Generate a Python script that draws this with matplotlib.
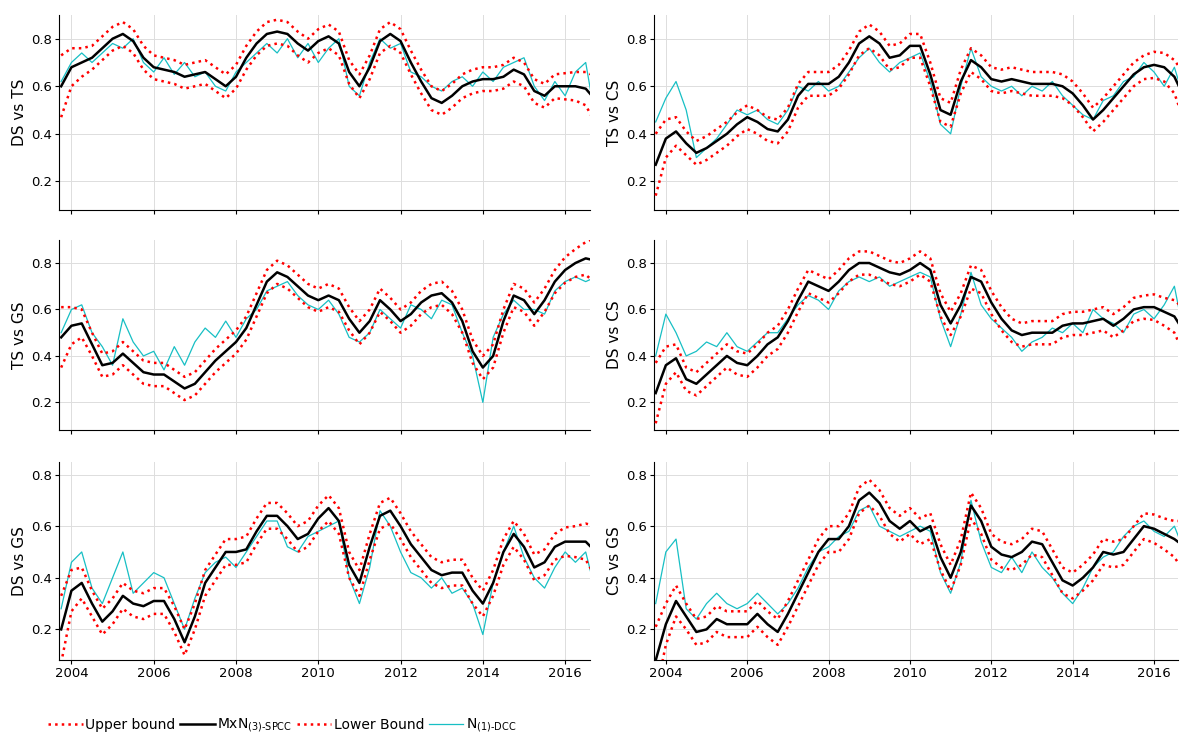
import numpy as np
import matplotlib
matplotlib.use('Agg')
import matplotlib.pyplot as plt

# quarterly dates 2003.75 ... 2016.75
t = 2003.75 + 0.25 * np.arange(53)

titles = ['DS vs TS', 'TS vs CS', 'TS vs GS', 'DS vs CS', 'DS vs GS', 'CS vs GS']

spcc = [
    [0.6,0.68,0.7,0.72,0.76,0.8,0.82,0.79,0.72,0.68, 0.67,0.66,0.64,0.65,0.66,0.63,0.6,0.64,0.72,0.78,
     0.82,0.83,0.82,0.78,0.75,0.79,0.81,0.78,0.66,0.6, 0.68,0.79,0.82,0.79,0.7,0.62,0.55,0.53,0.56,0.6,
     0.62,0.63,0.63,0.64,0.67,0.65,0.58,0.56,0.6,0.6, 0.6,0.59,0.54],
    [0.27,0.38,0.41,0.36,0.32,0.34,0.37,0.4,0.44,0.47, 0.45,0.42,0.41,0.46,0.56,0.61,0.61,0.61,0.64,0.7,
     0.78,0.81,0.78,0.72,0.73,0.77,0.77,0.65,0.5,0.48, 0.62,0.71,0.68,0.63,0.62,0.63,0.62,0.61,0.61,0.61,
     0.6,0.57,0.52,0.46,0.5,0.55,0.6,0.65,0.68,0.69, 0.68,0.64,0.55],
    [0.48,0.53,0.54,0.45,0.36,0.37,0.41,0.37,0.33,0.32, 0.32,0.29,0.26,0.28,0.33,0.38,0.42,0.46,0.52,0.62,
     0.72,0.76,0.74,0.7,0.66,0.64,0.66,0.64,0.56,0.5, 0.55,0.64,0.6,0.55,0.58,0.63,0.66,0.67,0.63,0.55,
     0.42,0.35,0.4,0.55,0.66,0.64,0.58,0.64,0.72,0.77, 0.8,0.82,0.81],
    [0.24,0.36,0.39,0.3,0.28,0.32,0.36,0.4,0.37,0.36, 0.4,0.45,0.48,0.55,0.64,0.72,0.7,0.68,0.72,0.77,
     0.8,0.8,0.78,0.76,0.75,0.77,0.8,0.77,0.62,0.54, 0.62,0.74,0.72,0.63,0.56,0.51,0.49,0.5,0.5,0.5,
     0.53,0.54,0.54,0.55,0.56,0.53,0.56,0.6,0.61,0.61, 0.59,0.57,0.5],
    [0.2,0.35,0.38,0.3,0.23,0.27,0.33,0.3,0.29,0.31, 0.31,0.24,0.15,0.25,0.38,0.44,0.5,0.5,0.51,0.58,
     0.64,0.64,0.6,0.55,0.57,0.63,0.67,0.62,0.45,0.38, 0.52,0.64,0.66,0.6,0.53,0.48,0.43,0.41,0.42,0.42,
     0.35,0.3,0.38,0.5,0.57,0.52,0.44,0.46,0.52,0.54, 0.54,0.54,0.5],
    [0.08,0.22,0.31,0.25,0.19,0.2,0.24,0.22,0.22,0.22, 0.26,0.22,0.19,0.26,0.34,0.42,0.5,0.55,0.55,0.6,
     0.7,0.73,0.69,0.62,0.59,0.62,0.58,0.6,0.48,0.4, 0.5,0.68,0.62,0.52,0.49,0.48,0.5,0.54,0.53,0.46,
     0.39,0.37,0.4,0.44,0.5,0.49,0.5,0.55,0.6,0.59, 0.57,0.55,0.52],
]

dcc = [
    [0.62,0.7,0.74,0.7,0.74,0.78,0.76,0.8,0.7,0.66, 0.72,0.65,0.7,0.64,0.66,0.6,0.58,0.66,0.7,0.74,
     0.78,0.74,0.8,0.72,0.78,0.7,0.76,0.8,0.6,0.56, 0.7,0.8,0.76,0.78,0.66,0.64,0.6,0.58,0.62,0.64,
     0.6,0.66,0.62,0.68,0.7,0.72,0.6,0.54,0.62,0.56, 0.66,0.7,0.45],
    [0.45,0.55,0.62,0.5,0.3,0.34,0.38,0.44,0.5,0.48, 0.5,0.46,0.44,0.5,0.6,0.58,0.62,0.58,0.6,0.66,
     0.72,0.76,0.7,0.66,0.7,0.72,0.74,0.62,0.44,0.4, 0.6,0.76,0.64,0.6,0.58,0.6,0.56,0.6,0.58,0.62,
     0.56,0.52,0.48,0.46,0.54,0.56,0.62,0.64,0.7,0.66, 0.6,0.68,0.54],
    [0.5,0.6,0.62,0.5,0.44,0.36,0.56,0.46,0.4,0.42, 0.34,0.44,0.36,0.46,0.52,0.48,0.55,0.48,0.56,0.6,
     0.68,0.7,0.72,0.66,0.62,0.6,0.64,0.58,0.48,0.46, 0.5,0.6,0.56,0.52,0.62,0.6,0.56,0.64,0.62,0.5,
     0.4,0.2,0.48,0.58,0.64,0.6,0.6,0.58,0.68,0.72, 0.74,0.72,0.74],
    [0.4,0.58,0.5,0.4,0.42,0.46,0.44,0.5,0.44,0.42, 0.46,0.5,0.5,0.56,0.62,0.66,0.64,0.6,0.68,0.72,
     0.74,0.72,0.74,0.7,0.72,0.74,0.76,0.74,0.56,0.44, 0.58,0.76,0.62,0.56,0.52,0.48,0.42,0.46,0.48,0.52,
     0.5,0.54,0.5,0.6,0.56,0.54,0.5,0.58,0.6,0.56, 0.62,0.7,0.48],
    [0.28,0.46,0.5,0.36,0.3,0.4,0.5,0.34,0.38,0.42, 0.4,0.3,0.2,0.32,0.42,0.46,0.48,0.44,0.5,0.56,
     0.62,0.62,0.52,0.5,0.56,0.58,0.6,0.62,0.4,0.3, 0.44,0.66,0.6,0.5,0.42,0.4,0.36,0.4,0.34,0.36,
     0.3,0.18,0.38,0.5,0.6,0.48,0.4,0.36,0.44,0.5, 0.46,0.5,0.34],
    [0.3,0.5,0.55,0.28,0.24,0.3,0.34,0.3,0.28,0.3, 0.34,0.3,0.26,0.3,0.36,0.44,0.5,0.52,0.56,0.58,
     0.66,0.68,0.6,0.58,0.56,0.58,0.6,0.58,0.42,0.34, 0.46,0.7,0.54,0.44,0.42,0.48,0.42,0.5,0.44,0.4,
     0.34,0.3,0.36,0.44,0.48,0.5,0.56,0.6,0.62,0.58, 0.56,0.6,0.5],
]

# half width of the confidence band (wider at the sample ends)
band = [0.13, 0.08, 0.06] + [0.05] * 46 + [0.055, 0.06, 0.07, 0.1]

ylims = [(0.08, 0.9), (0.08, 0.9), (0.08, 0.9), (0.08, 0.9), (0.08, 0.85), (0.08, 0.85)]

fig = plt.figure(figsize=(11.82, 7.47), dpi=100)
lefts = [0.05, 0.553]
widths = [0.449, 0.444]
rows = [(0.719, 0.261), (0.424, 0.255), (0.116, 0.266)]

for k in range(6):
    r, c = divmod(k, 2)
    ax = fig.add_axes([lefts[c], rows[r][0], widths[c], rows[r][1]])
    s = np.array(spcc[k])
    b = np.array(band)
    ax.plot(t, dcc[k], color='#17bfc4', lw=0.9, label='N$_{(1)\\text{-DCC}}$', zorder=2)
    ax.plot(t, s + b, color='red', ls=':', lw=1.8, label='Upper bound', zorder=3)
    ax.plot(t, s, color='black', lw=1.8, label='MxN$_{(3)\\text{-SPCC}}$', zorder=4)
    ax.plot(t, s - b, color='red', ls=':', lw=1.8, label='Lower Bound', zorder=3)
    ax.set_xlim(2003.7, 2016.6)
    ax.set_ylim(*ylims[k])
    ax.set_yticks([0.2, 0.4, 0.6, 0.8])
    ax.set_xticks(range(2004, 2017, 2))
    if r < 2:
        ax.set_xticklabels([])
    ax.tick_params(labelsize=9.5, length=3, pad=2)
    ax.grid(True, color='#dddddd', lw=0.7)
    ax.set_ylabel(titles[k], fontsize=11, labelpad=3)
    ax.spines['top'].set_visible(False)
    ax.spines['right'].set_visible(False)
    if k == 4:
        h, l = ax.get_legend_handles_labels()
        order = [1, 2, 3, 0]
        fig.legend([h[i] for i in order], [l[i] for i in order], ncol=4, frameon=False,
                   loc='lower left', bbox_to_anchor=(0.03, 0.0), fontsize=10,
                   handlelength=2.5, columnspacing=0.3, handletextpad=0.2)

fig.savefig('out.png', dpi=100)
